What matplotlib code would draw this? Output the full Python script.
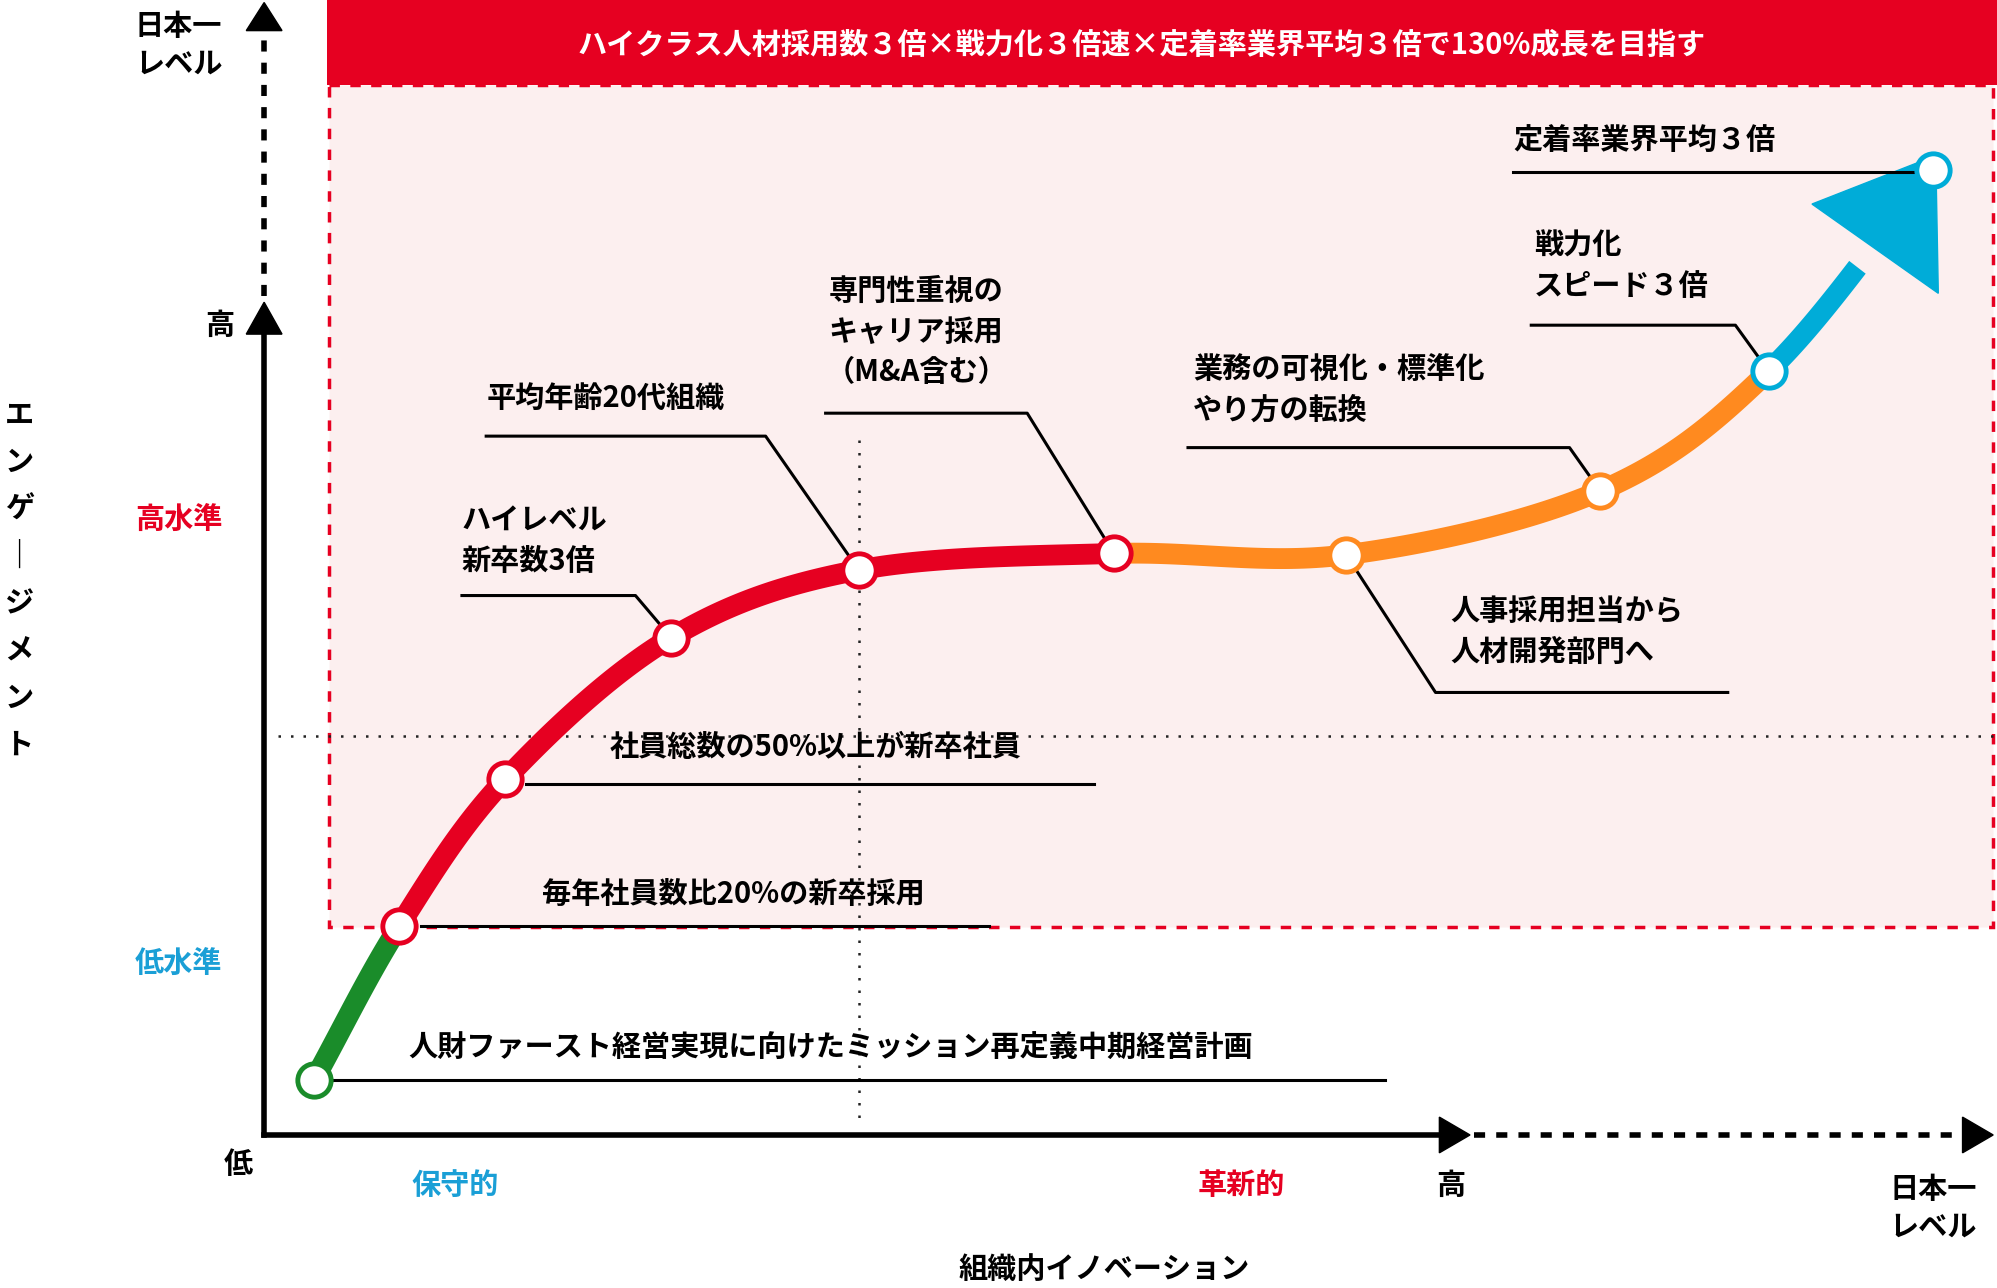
import numpy as np
import matplotlib
matplotlib.use("Agg")
import matplotlib.pyplot as plt
from matplotlib.patches import Rectangle, Polygon

plt.rcParams['font.family'] = ['Noto Sans CJK JP', 'DejaVu Sans']
plt.rcParams['font.weight'] = 'bold'

# milestone nodes (innovation, engagement) in chart units
node_x = [246, 313, 396, 526, 673, 873, 1055, 1254, 1386, 1515]
node_y = [847, 726, 611, 500, 447, 434, 435, 385, 291, 133]
seg_colors = ['#1a8c2a', '#e60021', '#e60021', '#e60021', '#e60021',
              '#ff8a1f', '#ff8a1f', '#ff8a1f', '#00acd8']
node_edge = ['#1a8c2a', '#e60021', '#e60021', '#e60021', '#e60021',
             '#e60021', '#ff8a1f', '#ff8a1f', '#00acd8', '#00acd8']

labels = [
    ("人財ファースト経営実現に向けたミッション再定義中期経営計画", (320, 822), 'left', [(262, 847), (1085, 847)]),
    ("毎年社員数比20%の新卒採用", (425, 701), 'left', [(330, 726), (775, 726)]),
    ("社員総数の50%以上が新卒社員", (478, 586), 'left', [(412, 615), (857, 615)]),
    ("ハイレベル\n新卒数3倍", (362, 424), 'left', [(362, 467), (498, 467), (526, 500)]),
    ("平均年齢20代組織", (381, 312), 'left', [(381, 342), (600, 342), (673, 447)]),
    ("専門性重視の\nキャリア採用\n（M&A含む）", (718, 260), 'center', [(647, 324), (805, 324), (873, 434)]),
    ("業務の可視化・標準化\nやり方の転換", (935, 305), 'left', [(931, 351), (1230, 351), (1254, 385)]),
    ("戦力化\nスピード３倍", (1202, 208), 'left', [(1200, 255), (1360, 255), (1386, 291)]),
    ("定着率業界平均３倍", (1186, 110), 'left', [(1186, 135), (1500, 135)]),
    ("人事採用担当から\n人材開発部門へ", (1137, 495), 'left', [(1055, 435), (1125, 543), (1354, 543)]),
]

W, H = 1565, 1010
fig = plt.figure(figsize=(19.97, 12.88), dpi=100)
ax = fig.add_axes([0, 0, 1, 1])
ax.set_xlim(0, W); ax.set_ylim(H, 0); ax.axis('off')
FS = 21

# background zone
ax.add_patch(Rectangle((258, 67), 1304, 660, facecolor='#fcefef', edgecolor='#e60021',
                       linestyle=(0, (3, 3)), linewidth=2.5, zorder=1))
ax.add_patch(Rectangle((256, 0), 1309, 67, facecolor='#e60021', edgecolor='none', zorder=2))
ax.text(895, 35, "ハイクラス人材採用数３倍×戦力化３倍速×定着率業界平均３倍で130%成長を目指す",
        color='white', fontsize=FS, ha='center', va='center', zorder=3)

ax.plot([218, 1565], [577, 577], color='#222', linestyle=(0, (1, 4)), lw=1.8, zorder=2)
ax.plot([673, 673], [345, 878], color='#222', linestyle=(0, (1, 4)), lw=1.8, zorder=2)

# axes
ax.plot([207, 207], [890, 262], color='black', lw=4, zorder=3)
ax.add_patch(Polygon([[193, 262], [221, 262], [207, 237]], color='black', zorder=3))
ax.plot([207, 207], [232, 30], color='black', lw=4, linestyle=(0, (2, 2)), zorder=3)
ax.add_patch(Polygon([[193, 24], [221, 24], [207, 2]], color='black', zorder=3))
ax.plot([207, 1128], [890, 890], color='black', lw=4, zorder=3)
ax.add_patch(Polygon([[1128, 876], [1128, 904], [1152, 890]], color='black', zorder=3))
ax.plot([1155, 1538], [890, 890], color='black', lw=4, linestyle=(0, (2, 2)), zorder=3)
ax.add_patch(Polygon([[1538, 876], [1538, 904], [1562, 890]], color='black', zorder=3))

# curve (Catmull-Rom through nodes)
P = np.array(list(zip(node_x, node_y)), dtype=float)
Pe = np.vstack([2 * P[0] - P[1], P, 2 * P[-1] - P[-2]])
t = np.linspace(0, 1, 40)[:, None]
for i in range(len(P) - 1):
    p0, p1, p2, p3 = Pe[i], Pe[i + 1], Pe[i + 2], Pe[i + 3]
    c = 0.5 * ((2 * p1) + (-p0 + p2) * t + (2 * p0 - 5 * p1 + 4 * p2 - p3) * t ** 2
               + (-p0 + 3 * p1 - 3 * p2 + p3) * t ** 3)
    if i == len(P) - 2:
        c = c[t[:, 0] <= 0.55]
    ax.plot(c[:, 0], c[:, 1], color=seg_colors[i], lw=15, solid_capstyle='butt', zorder=4)
ax.add_patch(Polygon([[1420, 160], [1517, 122], [1519, 230]], color='#00acd8', zorder=4))

for x, y, e in zip(node_x, node_y, node_edge):
    ax.plot(x, y, 'o', ms=24, mfc='white', mec=e, mew=3.5, zorder=6)

for txt, (tx, ty), ha, pts in labels:
    xs, ys = zip(*pts)
    ax.plot(xs, ys, color='black', lw=2.2, zorder=5)
    ax.text(tx, ty, txt, fontsize=FS, ha=ha, va='center', linespacing=1.45, zorder=7)

# axis texts
ax.text(140, 35, "日本一\nレベル", fontsize=FS, ha='center', va='center', linespacing=1.3)
ax.text(172, 255, "高", fontsize=FS, ha='center', va='center')
ax.text(140, 407, "高水準", fontsize=FS, ha='center', va='center', color='#e60021')
ax.text(140, 755, "低水準", fontsize=FS, ha='center', va='center', color='#1a9fd6')
ax.text(187, 913, "低", fontsize=FS, ha='center', va='center')
for k, ch in enumerate("エンゲージメント"):
    ax.text(15, 325 + k * 37, "｜" if ch == "ー" else ch, fontsize=FS, ha='center', va='center')
ax.text(357, 929, "保守的", fontsize=FS, ha='center', va='center', color='#1a9fd6')
ax.text(973, 929, "革新的", fontsize=FS, ha='center', va='center', color='#e60021')
ax.text(1137, 929, "高", fontsize=FS, ha='center', va='center')
ax.text(1515, 947, "日本一\nレベル", fontsize=FS, ha='center', va='center', linespacing=1.3)
ax.text(865, 995, "組織内イノベーション", fontsize=FS, ha='center', va='center')

fig.savefig("out.png", dpi=100, facecolor='white')
